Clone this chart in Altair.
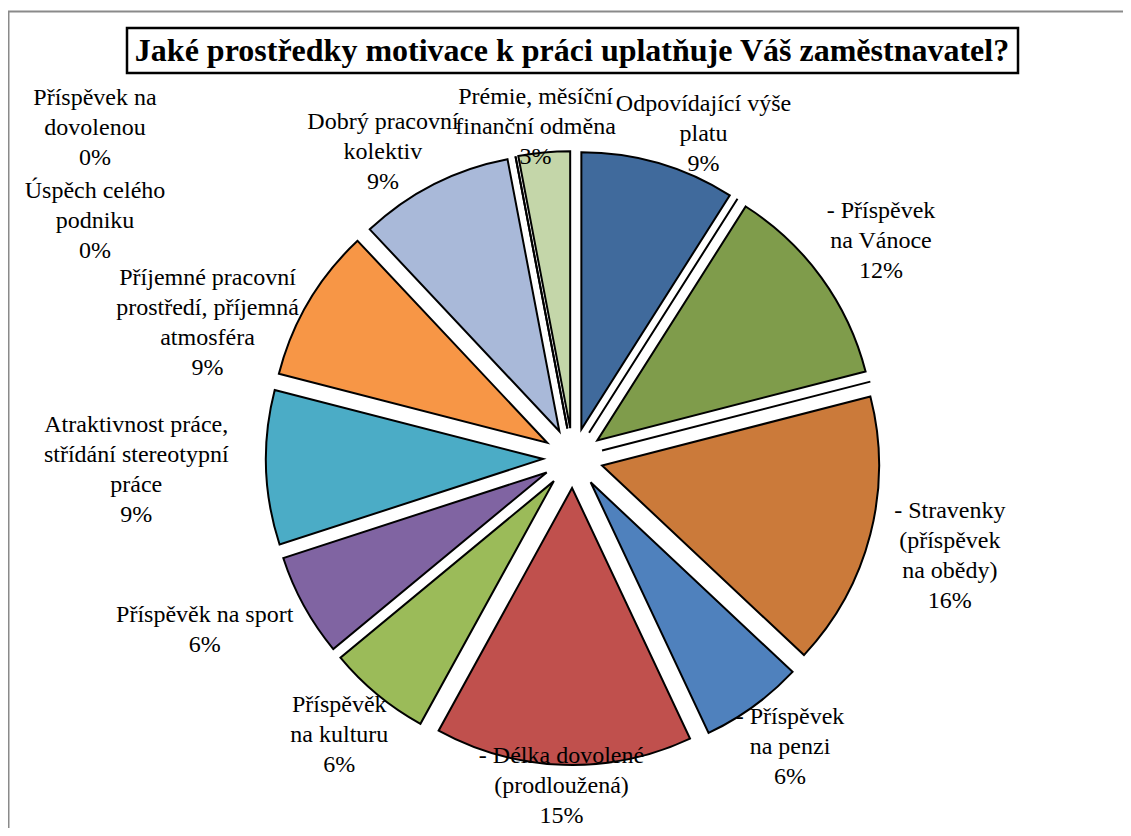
import math
import altair as alt
import pandas as pd

# ---- data ----
categories = [
    "Odpovídající výše\nplatu",
    "",
    "- Příspěvek\nna Vánoce",
    "",
    "- Stravenky\n(příspěvek\nna obědy)",
    "- Příspěvek\nna penzi",
    "- Délka dovolené\n(prodloužená)",
    "Příspěvěk\nna kulturu",
    "Příspěvěk na sport",
    "Atraktivnost práce,\nstřídání stereotypní\npráce",
    "Příjemné pracovní\nprostředí, příjemná\natmosféra",
    "Dobrý pracovní\nkolektiv",
    "Úspěch celého\npodniku",
    "Příspěvek na\ndovolenou",
    "Prémie, měsíční\nfinanční odměna",
]
values = [9, 0, 12, 0, 16, 6, 15, 6, 6, 9, 9, 9, 0, 0, 3]
colors = [
    "#406A9C", "#FFFFFF", "#7F9C4B", "#FFFFFF", "#CB7A3A", "#4F81BD",
    "#C0504D", "#9BBB59", "#8064A2", "#4BACC6", "#F79646", "#A9B9D9",
    "#FFFFFF", "#FFFFFF", "#C4D6A9",
]
title_text = "Jaké prostředky motivace k práci uplatňuje Váš zaměstnavatel?"

# ---- layout constants ----
W, H = 1115, 820
CX, CY = 565, 450          # pie centre (px)
R = 277                    # pie radius
EXPLODE = 30               # explosion distance
FONT = "Liberation Serif"
FS = 24
LH = 30
CHAR_W = 10.3

total = sum(values)

# ---- label layout: box just outside each slice, then resolve collisions ----
ZERO_X, ZERO_Y0, ZERO_STEP = 87, 90, 93
n_zero = sum(1 for c, v in zip(categories, values) if v == 0 and c)
zero_box = (ZERO_X - 78, ZERO_Y0 - 15, ZERO_X + 78, ZERO_Y0 - 15 + n_zero * 3 * LH)

cum = 0
mids = []
for v in values:
    mids.append((cum + v / 2) / total * 2 * math.pi)
    cum += v

def center_of(it):
    a, w, h = it["ang"], it["w"], it["h"]
    s, c = math.sin(a), math.cos(a)
    r0 = 282 + 52 * abs(s)
    return CX + (r0 + w / 2) * s, CY - r0 * c - c * h / 2 + it["dy"]

def box(it):
    x, y = center_of(it)
    w, h = it["w"], it["h"]
    return (x - w / 2, y - h / 2, x + w / 2, y + h / 2)

def overlap(b1, b2, pad=2):
    return not (b1[2] + pad <= b2[0] or b2[2] + pad <= b1[0] or b1[3] <= b2[1] or b2[3] <= b1[1])

items = []
for i, (c, v) in enumerate(zip(categories, values)):
    lines = c.split("\n") + [f"{round(100 * v / total)}%"]
    items.append({
        "idx": i, "name": c, "value": v, "label": "\n".join(lines),
        "w": max(len(s) for s in lines) * CHAR_W, "h": len(lines) * LH,
        "ang": mids[i], "dy": 0.0,
    })

shown = [it for it in items if it["value"] > 0]
step = math.radians(0.25)
for _ in range(3000):
    moved = False
    order = sorted(shown, key=lambda it: it["ang"])
    for k in range(len(order)):
        a, b = order[k], order[(k + 1) % len(order)]
        if overlap(box(a), box(b)):
            a["ang"] -= step
            b["ang"] += step
            moved = True
    for it in shown:
        if overlap(box(it), zero_box):
            it["dy"] += 1.0
            moved = True
    if not moved:
        break

for it in items:
    x, yc = center_of(it)
    it["lx"] = x
    it["ly"] = yc - (it["h"] - LH) / 2   # y of the first text line

df = pd.DataFrame(items)

base = alt.Chart(df).transform_joinaggregate(
    total="sum(value)"
).transform_window(
    cum="sum(value)", sort=[alt.SortField("idx")], frame=[None, 0]
).transform_calculate(
    t1="datum.cum / datum.total * 2 * PI",
).transform_calculate(
    t0="datum.t1 - datum.value / datum.total * 2 * PI",
).transform_calculate(
    mid="(datum.t0 + datum.t1) / 2",
).transform_calculate(
    px=f"{CX} + {EXPLODE} * sin(datum.mid)",
    py=f"{CY} - {EXPLODE} * cos(datum.mid)",
)

arcs = base.mark_arc(radius=R, stroke="black", strokeWidth=2).encode(
    theta=alt.Theta("t0:Q", scale=None),
    theta2="t1:Q",
    x=alt.X("px:Q", scale=None),
    y=alt.Y("py:Q", scale=None),
    color=alt.Color("idx:N", scale=alt.Scale(domain=list(range(len(values))), range=colors), legend=None),
    order=alt.Order("idx:Q"),
)

labels = alt.Chart(df).transform_filter("datum.value > 0").mark_text(
    font=FONT, fontSize=FS, lineBreak="\n", lineHeight=LH,
    align="center", baseline="middle", color="black",
).encode(
    x=alt.X("lx:Q", scale=None),
    y=alt.Y("ly:Q", scale=None),
    text="label:N",
)

# zero-value items: Excel stacks their labels in the top-left corner
zero_labels = alt.Chart(df).transform_filter(
    "datum.value == 0 && datum.name != ''"
).transform_window(
    rn="row_number()", sort=[alt.SortField("idx", order="descending")]
).transform_calculate(
    ly=f"{ZERO_Y0} + (datum.rn - 1) * {ZERO_STEP}"
).mark_text(
    font=FONT, fontSize=FS, lineBreak="\n", lineHeight=LH,
    align="center", baseline="middle", color="black",
).encode(
    x=alt.value(ZERO_X),
    y=alt.Y("ly:Q", scale=None),
    text="label:N",
)

tdf = pd.DataFrame({"t": [title_text]})
title_box = alt.Chart(tdf).mark_rect(fill="white", stroke="black", strokeWidth=2.5).encode(
    x=alt.value(119), x2=alt.value(1010), y=alt.value(20), y2=alt.value(65)
)
title = alt.Chart(tdf).mark_text(
    font=FONT, fontSize=32, fontWeight="bold", align="center", baseline="middle", color="black"
).encode(x=alt.value(564), y=alt.value(43), text="t:N")

frame_top = alt.Chart(tdf).mark_rule(color="#8A8A8A", strokeWidth=2).encode(
    x=alt.value(0), x2=alt.value(W), y=alt.value(3.5)
)
frame_left = alt.Chart(tdf).mark_rule(color="#8A8A8A", strokeWidth=2).encode(
    x=alt.value(0.5), y=alt.value(3.5), y2=alt.value(H)
)

chart = alt.layer(
    frame_top, frame_left, arcs, labels, zero_labels, title_box, title
).properties(
    width=W, height=H, autosize=alt.AutoSizeParams(type="none"),
    padding={"left": 0, "top": 0, "right": 0, "bottom": 0},
).configure_view(stroke=None)

chart.save("out.html", embed_options={"renderer": "svg", "actions": False})
